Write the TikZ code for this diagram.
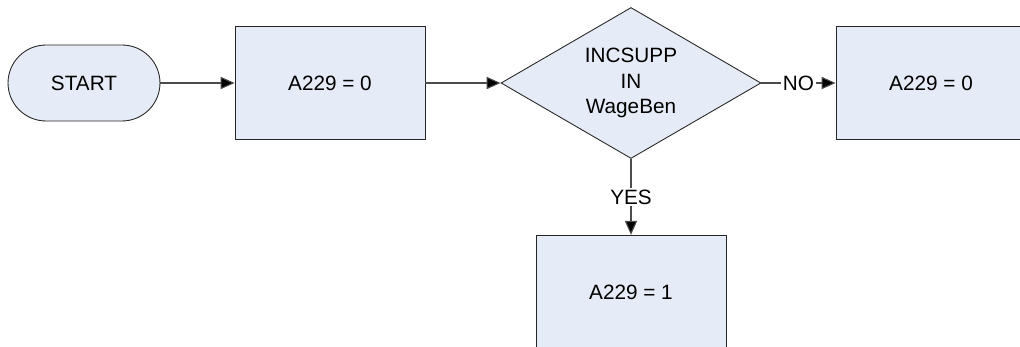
\documentclass[tikz,border=0pt]{standalone}
\usepackage{fontspec}
\setmainfont{Liberation Sans}
\usepackage{xcolor}
\usetikzlibrary{shapes.geometric,arrows.meta}
\definecolor{boxfill}{HTML}{E6ECF7}

\begin{document}
\begin{tikzpicture}
  [x=.02cm,y=.02cm,
   every node/.style={draw=black!85,fill=boxfill,line width=.5pt,inner sep=1pt,
     font=\fontsize{11.8}{14.5}\selectfont,align=center},
   procbox/.style={rectangle,minimum width=3.8cm,minimum height=2.27cm},
   termbox/.style={rectangle,rounded corners=.76cm,minimum width=3.04cm,minimum height=1.52cm},
   decbox/.style={diamond,aspect=1.72,minimum width=5.2cm,minimum height=3.02cm},
   lbl/.style={draw=none,fill=white,inner sep=1pt},
   flow/.style={-{Triangle[length=8pt,width=7pt,fill=black]},draw=black!70,line width=.6pt}]
  \useasboundingbox (0,0) rectangle (1020,-347);
  \node[termbox] (start) at (84,-83) {START};
  \node[procbox] (seta) at (330,-83) {A229 = 0};
  \node[decbox] (dec) at (631,-83) {INCSUPP\\IN\\WageBen};
  \node[procbox] (setno) at (931,-83) {A229 = 0};
  \node[procbox] (setyes) at (631,-292) {A229 = 1};

  \foreach \from/\to in {start/seta, seta/dec}
    \draw[flow] (\from) -- (\to);
  \draw[flow] (dec) -- node[lbl] {NO} (setno);
  \draw[flow] (dec) -- node[lbl] {YES} (setyes);
\end{tikzpicture}
\end{document}
